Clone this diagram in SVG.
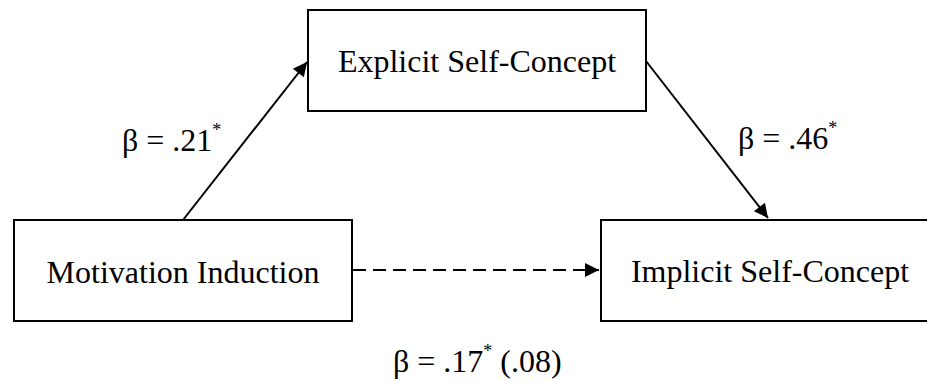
<svg xmlns="http://www.w3.org/2000/svg" width="927" height="382" viewBox="0 0 927 382">
<style>
.box{fill:#fff;stroke:#000;stroke-width:2}
.t{font-family:"Liberation Serif","Times New Roman",serif;font-size:32px;fill:#000}
.lbl{font-family:"Liberation Serif","Times New Roman",serif;font-size:32px;fill:#000}
.sup{font-size:18px}
.ln{stroke:#000;stroke-width:2;fill:none}
</style>
<defs>
<marker id="ah" viewBox="0 0 10 10" refX="10" refY="5" markerWidth="8.5" markerHeight="7" markerUnits="strokeWidth" orient="auto">
<path d="M0,0 L10,5 L0,10 Z" fill="#000"/>
</marker>
</defs>
<rect width="927" height="382" fill="#fff"/>
<g id="connectors">
<line class="ln" x1="183" y1="220" x2="307" y2="62" marker-end="url(#ah)"/>
<line class="ln" x1="646" y1="61" x2="768" y2="218" marker-end="url(#ah)"/>
<line class="ln" x1="353" y1="270" x2="599" y2="270" stroke-dasharray="13,7" marker-end="url(#ah)"/>
</g>
<g id="explicit">
<rect class="box" x="308" y="10" width="338" height="101"/>
<text class="t" x="477" y="72" text-anchor="middle">Explicit Self-Concept</text>
</g>
<g id="motivation">
<rect class="box" x="14" y="220" width="338" height="101"/>
<text class="t" x="183" y="283" text-anchor="middle">Motivation Induction</text>
</g>
<g id="implicit">
<rect class="box" x="601" y="220" width="338" height="101"/>
<text class="t" x="770" y="282" text-anchor="middle">Implicit Self-Concept</text>
</g>
<g id="labels">
<text class="lbl" x="122" y="151">β = .21<tspan class="sup" dy="-15">*</tspan></text>
<text class="lbl" x="738" y="149">β = .46<tspan class="sup" dy="-15">*</tspan></text>
<text class="lbl" x="393" y="372">β = .17<tspan class="sup" dy="-15">*</tspan><tspan dy="15"> (.08)</tspan></text>
</g>
</svg>
